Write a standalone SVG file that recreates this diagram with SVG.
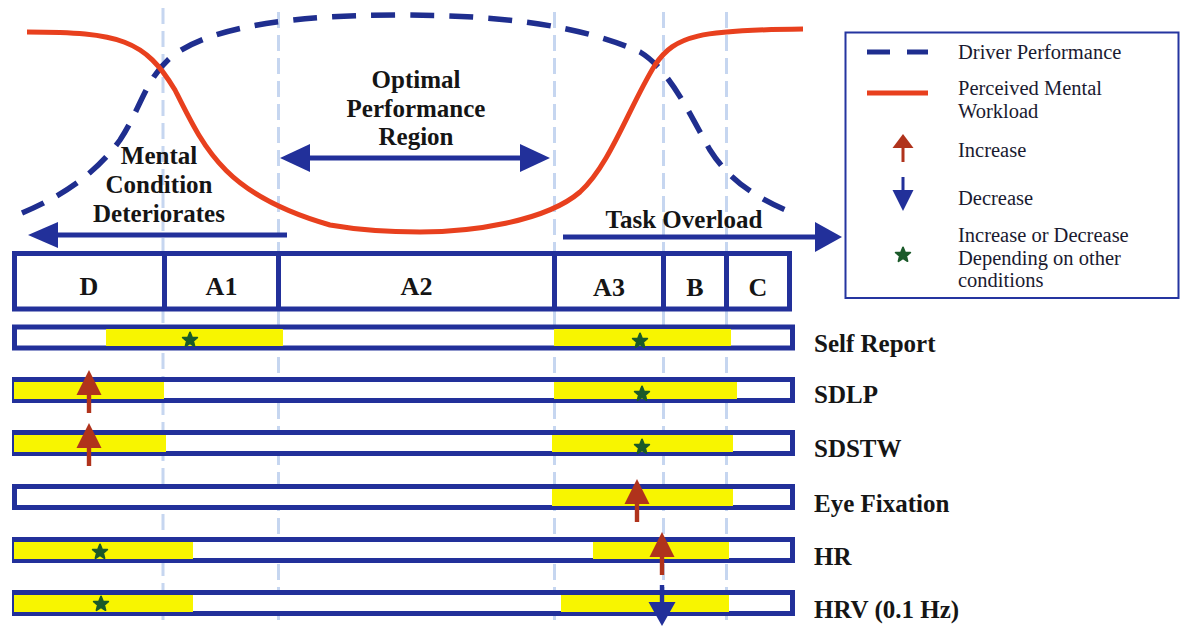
<svg xmlns="http://www.w3.org/2000/svg" xmlns:xlink="http://www.w3.org/1999/xlink" width="1183" height="626" viewBox="0 0 1183 626">
  <style>
    .guide { stroke: #c6d6f0; stroke-width: 3; stroke-dasharray: 16 7; fill: none; }
    .frame { fill: #ffffff; stroke: #22309a; stroke-width: 5; }
    .div { stroke: #22309a; stroke-width: 5; }
    .hl { fill: #f8f500; }
    .bold { font-family: "Liberation Serif", "Times New Roman", serif; font-weight: bold; fill: #151515; }
    .zone { font-size: 26px; text-anchor: middle; }
    .head { font-size: 25px; text-anchor: middle; }
    .row { font-size: 25px; }
    .leg { font-family: "Liberation Serif", "Times New Roman", serif; font-size: 20.5px; fill: #1a1a30; }
    .perf { fill: none; stroke: #1f2e8f; stroke-width: 5.5; stroke-dasharray: 24 15; }
    .load { fill: none; stroke: #e8401e; stroke-width: 5; }
    .arrowline { stroke: #22309a; stroke-width: 5; }
    .arrowhead { fill: #22309a; }
  </style>
  <defs>
    <!-- five-point marker: increase or decrease depending on conditions -->
    <path id="star" d="M0,-7.6 L2,-2.7 L7.3,-2.4 L3.2,1 L4.5,6.2 L0,3.3 L-4.5,6.2 L-3.2,1 L-7.3,-2.4 L-2,-2.7 Z" fill="#1b5a2a" stroke="#1b5a2a" stroke-width="1.8" stroke-linejoin="round"/>
    <!-- increase arrow, tip at origin -->
    <g id="up">
      <rect x="-2.2" y="24" width="4.4" height="19" fill="#b0331c"/>
      <polygon points="0,0 12.5,25 -12.5,25" fill="#b0331c"/>
    </g>
  </defs>
  <rect width="1183" height="626" fill="#ffffff"/>

  <!-- region boundary guides -->
  <g id="guides">
    <line class="guide" x1="163" y1="8" x2="163" y2="620"/>
    <line class="guide" x1="278.5" y1="12" x2="278.5" y2="620"/>
    <line class="guide" x1="554.5" y1="12" x2="554.5" y2="620"/>
    <line class="guide" x1="663.5" y1="12" x2="663.5" y2="620"/>
    <line class="guide" x1="726.5" y1="12" x2="726.5" y2="620"/>
  </g>

  <!-- performance and workload curves -->
  <g id="curves">
    <path class="perf" d="M22,213 C60,197 95,175 120,140 C140,110 145,80 170,58 C210,25 300,15 400,15 C500,15 580,25 640,52 C670,70 690,115 710,150 C730,182 760,200 795,214"/>
    <path class="load" d="M27,32 C120,32 145,40 175,90 C205,150 225,195 330,225 C370,232 400,232 420,232 C470,232 545,222 580,192 C610,165 630,105 655,65 C675,35 700,30 803,29"/>
  </g>

  <!-- headings -->
  <g id="optimal-label">
    <text class="bold head" x="416" y="88">Optimal</text>
    <text class="bold head" x="416" y="117">Performance</text>
    <text class="bold head" x="416" y="145">Region</text>
  </g>
  <g id="mental-label">
    <text class="bold head" x="159" y="164">Mental</text>
    <text class="bold head" x="159" y="193">Condition</text>
    <text class="bold head" x="159" y="222">Deteriorates</text>
  </g>
  <g id="overload-label">
    <text class="bold head" x="684" y="228">Task Overload</text>
  </g>

  <g id="connectors">
    <!-- mental condition deteriorates -->
    <line class="arrowline" x1="287" y1="235" x2="52" y2="235"/>
    <polygon class="arrowhead" points="28,235 58,222 58,248"/>
    <!-- optimal performance region -->
    <line class="arrowline" x1="300" y1="158" x2="530" y2="158"/>
    <polygon class="arrowhead" points="280,158 310,144 310,172"/>
    <polygon class="arrowhead" points="550,158 520,144 520,172"/>
    <!-- task overload -->
    <line class="arrowline" x1="563" y1="237" x2="820" y2="237"/>
    <polygon class="arrowhead" points="842,237 815,222 815,252"/>
  </g>

  <!-- region strip -->
  <g id="regions">
    <rect class="frame" x="14.5" y="253.5" width="775" height="55.5"/>
    <line class="div" x1="164.5" y1="253.5" x2="164.5" y2="309"/>
    <line class="div" x1="278.5" y1="253.5" x2="278.5" y2="309"/>
    <line class="div" x1="554.5" y1="253.5" x2="554.5" y2="309"/>
    <line class="div" x1="663.5" y1="253.5" x2="663.5" y2="309"/>
    <line class="div" x1="726.5" y1="253.5" x2="726.5" y2="309"/>
    <text class="bold zone" x="89" y="295">D</text>
    <text class="bold zone" x="221.5" y="295">A1</text>
    <text class="bold zone" x="416.5" y="295">A2</text>
    <text class="bold zone" x="609" y="296">A3</text>
    <text class="bold zone" x="695" y="296">B</text>
    <text class="bold zone" x="758" y="296">C</text>
  </g>

  <g id="self-report">
    <rect class="frame" x="14.5" y="327" width="778" height="21"/>
    <rect class="hl" x="106" y="329" width="177" height="17"/>
    <rect class="hl" x="554" y="329" width="177" height="17"/>
    <use xlink:href="#star" x="190" y="340"/>
    <use xlink:href="#star" x="640" y="341"/>
    <text class="bold row" x="814" y="352">Self Report</text>
  </g>

  <g id="sdlp">
    <rect class="frame" x="14.5" y="379.5" width="778" height="21"/>
    <rect class="hl" x="14" y="382" width="150" height="17"/>
    <rect class="hl" x="554" y="382" width="183" height="17"/>
    <use xlink:href="#star" x="642" y="394"/>
    <use xlink:href="#up" x="89" y="370"/>
    <text class="bold row" x="814" y="403">SDLP</text>
  </g>

  <g id="sdstw">
    <rect class="frame" x="14.5" y="432.5" width="778" height="21"/>
    <rect class="hl" x="14" y="435" width="152" height="17"/>
    <rect class="hl" x="552" y="435" width="181" height="17"/>
    <use xlink:href="#star" x="642" y="447"/>
    <use xlink:href="#up" x="89" y="423"/>
    <text class="bold row" x="814" y="457">SDSTW</text>
  </g>

  <g id="eye-fixation">
    <rect class="frame" x="14.5" y="486.5" width="778" height="21"/>
    <rect class="hl" x="552" y="489" width="181" height="17"/>
    <use xlink:href="#up" x="637" y="479"/>
    <text class="bold row" x="814" y="512">Eye Fixation</text>
  </g>

  <g id="hr">
    <rect class="frame" x="14.5" y="539.5" width="778" height="21"/>
    <rect class="hl" x="14" y="542" width="179" height="17"/>
    <rect class="hl" x="593" y="542" width="136" height="17"/>
    <use xlink:href="#star" x="100" y="552"/>
    <use xlink:href="#up" x="662" y="532"/>
    <text class="bold row" x="814" y="565">HR</text>
  </g>

  <g id="hrv">
    <rect class="frame" x="14.5" y="592.5" width="778" height="21"/>
    <rect class="hl" x="14" y="595" width="179" height="17"/>
    <rect class="hl" x="561" y="595" width="168" height="17"/>
    <use xlink:href="#star" x="101" y="604"/>
    <rect x="659.8" y="585" width="4.4" height="19" fill="#22309a"/>
    <polygon points="648.5,602 675.5,602 662,626" fill="#22309a"/>
    <text class="bold row" x="814" y="618">HRV (0.1 Hz)</text>
  </g>

  <!-- key -->
  <g id="legend">
    <rect x="845.5" y="32.5" width="333" height="265.5" fill="#ffffff" stroke="#2535a0" stroke-width="2"/>
    <line x1="867" y1="52" x2="890" y2="52" stroke="#1f2e8f" stroke-width="5"/>
    <line x1="907" y1="52" x2="928" y2="52" stroke="#1f2e8f" stroke-width="5"/>
    <text class="leg" x="958" y="59">Driver Performance</text>
    <line x1="867" y1="93" x2="928" y2="93" stroke="#e8401e" stroke-width="5"/>
    <text class="leg" x="958" y="95">Perceived Mental</text>
    <text class="leg" x="958" y="118">Workload</text>
    <rect x="901.5" y="146" width="3" height="16" fill="#b0331c"/>
    <polygon points="903,134 913.5,148 892.5,148" fill="#b0331c"/>
    <text class="leg" x="958" y="157">Increase</text>
    <rect x="901.5" y="177" width="3" height="15" fill="#22309a"/>
    <polygon points="892.5,190 913.5,190 903,211" fill="#22309a"/>
    <text class="leg" x="958" y="205">Decrease</text>
    <use xlink:href="#star" x="903" y="255"/>
    <text class="leg" x="958" y="242">Increase or Decrease</text>
    <text class="leg" x="958" y="265">Depending on other</text>
    <text class="leg" x="958" y="287">conditions</text>
  </g>
</svg>
